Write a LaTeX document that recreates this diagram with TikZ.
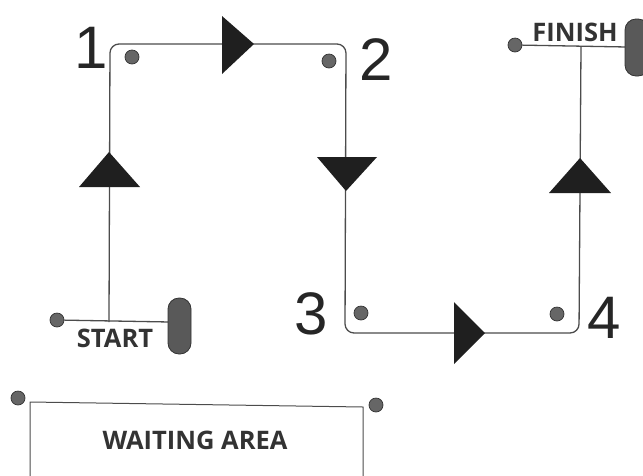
\documentclass[tikz,border=0pt]{standalone}
\usepackage{fontspec}
\setmainfont{Liberation Sans}
\newfontfamily\signfont{Open Sans}
\usepackage{tikz}
\usetikzlibrary{calc}

\tikzset{
    track/.style={draw=black!70, line width=1.3pt},
    peg/.style={circle, fill=black!60, draw=black!80, line width=0.7pt, minimum size=14pt, inner sep=0pt},
    bigdigit/.style={font=\fontsize{60}{60}\selectfont, text=black!85},
    sign/.style={font=\signfont\bfseries\fontsize{25.5}{25.5}\selectfont, text=black!80},
    flag/.style={fill=black!65, draw=black!80, line width=0.8pt, rounded corners=11pt},
    pointer/.style={fill=black!88}
}

\begin{document}
\begin{tikzpicture}[x=1pt,y=-1pt]

\useasboundingbox (0,0) rectangle (643,475);
\clip (0,0) rectangle (643,475);

% Corners of the course
\coordinate (s) at (109,322);
\coordinate (c1) at (110,44);
\coordinate (c2) at (346,44);
\coordinate (c3) at (345,333);
\coordinate (c4) at (579,333);
\coordinate (f) at (581,47);

% Course
\draw[track, rounded corners=9pt] (s) -- (c1) -- (c2) -- (c3) -- (c4) -- (f);

% Start bar
\node[peg] (startpeg) at (57,320) {};
\coordinate (startend) at (170,322);
\draw[track] (startpeg) -- (startend);
\draw[flag] (168,298) rectangle (191,354);
\node[sign] (start) at (115,338) {START};

% Finish bar
\node[peg] (finishpeg) at (515,45) {};
\coordinate (finishend) at (627,47);
\draw[track] (finishpeg) -- (finishend);
\draw[flag] (625,19) rectangle (649,76);
\node[sign] (finish) at (575,32) {FINISH};

% Direction triangles
\fill[pointer] (79,187) -- (140,187) -- (109,152) -- cycle;
\fill[pointer] (222,16) -- (222,74) -- (254,44) -- cycle;
\fill[pointer] (317,157) -- (377,157) -- (346,191) -- cycle;
\fill[pointer] (454,302) -- (454,364) -- (485,333) -- cycle;
\fill[pointer] (549,193) -- (611,193) -- (580,158) -- cycle;

% Pegs at the corners
\node[peg] (p1) at (132,57) {};
\node[peg] (p2) at (329,61) {};
\node[peg] (p3) at (361,313) {};
\node[peg] (p4) at (557,314) {};

% Corner numbers
\node[bigdigit] (n1) at (91,48) {1};
\node[bigdigit] (n2) at (376,60) {2};
\node[bigdigit] (n3) at (311,314) {3};
\node[bigdigit] (n4) at (604,318) {4};

% Waiting area
\node[peg] (w1) at (18,398) {};
\node[peg] (w2) at (376,405) {};
\draw[track, line width=1pt] (30,485) -- (30,402) -- (363,407) -- (363,485);
\node[sign] (wait) at (195,440) {WAITING AREA};

\end{tikzpicture}
\end{document}
